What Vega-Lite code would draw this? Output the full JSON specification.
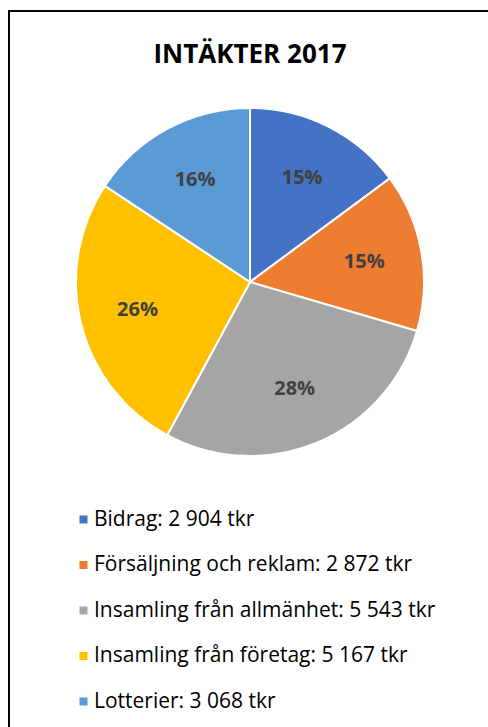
{
  "$schema": "https://vega.github.io/schema/vega-lite/v6.json",
  "autosize": {"type": "none"},
  "padding": {"left": 9, "top": 11, "right": -3, "bottom": -3},
  "width": 482,
  "height": 719,
  "background": "white",
  "view": {"stroke": "black", "strokeWidth": 2, "fill": "white"},
  "title": {
    "text": "INTÄKTER 2017",
    "font": "Open Sans",
    "fontSize": 26,
    "fontWeight": "bold",
    "color": "black",
    "anchor": "middle",
    "frame": "group",
    "baseline": "alphabetic",
    "offset": -78
  },
  "data": {
    "values": [
      {"etikett": "Bidrag: 2 904 tkr", "belopp": 2904, "andel": "15%"},
      {"etikett": "Försäljning och reklam: 2 872 tkr", "belopp": 2872, "andel": "15%"},
      {"etikett": "Insamling från allmänhet: 5 543 tkr", "belopp": 5543, "andel": "28%"},
      {"etikett": "Insamling från företag: 5 167 tkr", "belopp": 5167, "andel": "26%"},
      {"etikett": "Lotterier: 3 068 tkr", "belopp": 3068, "andel": "16%"}
    ]
  },
  "encoding": {
    "theta": {"field": "belopp", "type": "quantitative", "stack": true},
    "order": {"field": "etikett", "type": "nominal", "sort": "ascending"}
  },
  "layer": [
    {
      "mark": {"type": "arc", "outerRadius": 174, "x": 241, "y": 271, "stroke": "white", "strokeWidth": 2},
      "encoding": {
        "color": {
          "field": "etikett",
          "type": "nominal",
          "scale": {
            "domain": ["Bidrag: 2 904 tkr", "Försäljning och reklam: 2 872 tkr", "Insamling från allmänhet: 5 543 tkr", "Insamling från företag: 5 167 tkr", "Lotterier: 3 068 tkr"],
            "range": ["#4472C4", "#ED7D31", "#A5A5A5", "#FFC000", "#5B9BD5"]
          },
          "legend": {
            "orient": "none",
            "legendX": 64,
            "legendY": 498,
            "title": null,
            "symbolType": "square",
            "symbolSize": 64,
            "symbolStrokeWidth": 0,
            "labelFont": "Open Sans",
            "labelFontSize": 21,
            "labelColor": "black",
            "labelLimit": 0,
            "rowPadding": 23.5,
            "labelOffset": 0,
            "padding": 0
          }
        }
      }
    },
    {
      "mark": {"type": "text", "radius": 116, "x": 241, "y": 271, "font": "Open Sans", "fontSize": 20, "fontWeight": "bold", "fill": "#404040"},
      "encoding": {
        "text": {"field": "andel", "type": "nominal"},
        "detail": {"field": "etikett", "type": "nominal"}
      }
    }
  ]
}
